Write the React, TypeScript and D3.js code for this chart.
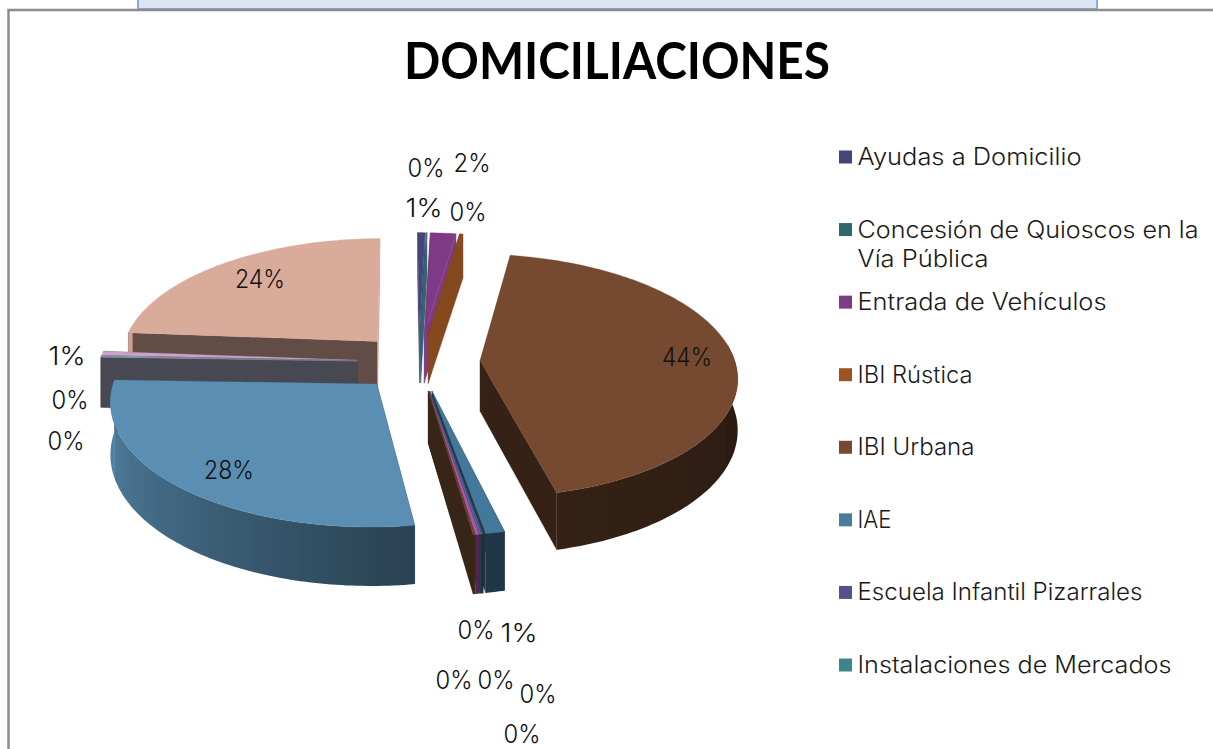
import React from "react";
import * as d3 from "d3";

const title = "DOMICILIACIONES";
const categories = [
  "Ayudas a Domicilio", "Concesión de Quioscos en la Vía Pública", "Entrada de Vehículos", "IBI Rústica",
  "IBI Urbana", "IAE", "Escuela Infantil Pizarrales", "Instalaciones de Mercados",
  "Otros 1", "Otros 2", "Otros 3", "Otros 4", "Otros 5", "Otros 6", "Otros 7", "Otros 8",
];
const shares = [0.55, 0.06, 1.86, 0.25, 43.6, 1.04, 0.08, 0.08, 0.2, 0.04, 0.05, 27.83, 0.08, 0.08, 0.55, 23.64];
const percentLabels = ["1%", "0%", "2%", "0%", "44%", "1%", "0%", "0%", "0%", "0%", "0%", "28%", "0%", "0%", "1%", "24%"];
const sliceColors = [
  "#46457a", "#31686d", "#7f3a86", "#86491e", "#754a30", "#44789a", "#56508f", "#3f8589",
  "#b04fb8", "#8a5a2a", "#7a5236", "#5a8fb3", "#a0a0b8", "#9cc4c4", "#c9a3c9", "#d9ab9b",
];
const legendColors = ["#46457a", "#31686d", "#7d3b87", "#9c5324", "#754a30", "#4a7b9d", "#56508f", "#3f8589"];
const legendLines = [
  ["Ayudas a Domicilio"], ["Concesión de Quioscos en la", "Vía Pública"], ["Entrada de Vehículos"], ["IBI Rústica"],
  ["IBI Urbana"], ["IAE"], ["Escuela Infantil Pizarrales"], ["Instalaciones de Mercados"],
];

// layout only
const legendLineWidths = [[224], [341, 131], [249], [115], [117], [34], [285], [314]];
const labelCentres = [
  [424, 208], [426, 168], [472, 163], [468, 212], [687, 357], [519, 633], [538, 694], [522, 734],
  [496, 680], [454, 680], [476, 630], [229, 470], [66, 441], [70, 400], [67, 356], [260, 279],
];
const W = 1213, H = 749;
const cx = 419, cy = 362, rxRight = 255, rxLeft = 258, ry = 120, persp = 0.121, explode = 0.24, depth = 50.5;
const FONT = "Inter, sans-serif";

const rad = (d: number) => (d * Math.PI) / 180;
const pie = d3.pie<number>().sort(null).startAngle(rad(-0.5)).endAngle(rad(359.5));
const arcs = pie(shares);

const line = d3.line<[number, number]>();
const outerShade = d3.scaleLinear().domain([90, 172, 272]).range([0.36, 0.46, 0.95]).clamp(true);
const radialShade = d3.scaleLinear().domain([-1, 0.9, 0.93, 1]).range([0.45, 0.45, 1, 1]);

function project(u: number, v: number): [number, number, number] {
  const s = 1 / (1 - persp * v);
  return [cx + (u < 0 ? rxLeft : rxRight) * u * s, cy + ry * v * s, s];
}

function shade(col: string, k: number) {
  const c = d3.rgb(col);
  return d3.rgb(c.r * k, c.g * k, c.b * k).formatHex();
}

type Slice = { i: number; start: number; end: number; mid: number };
const slices: Slice[] = arcs.map((a, i) => ({ i, start: a.startAngle, end: a.endAngle, mid: (a.startAngle + a.endAngle) / 2 }));
const ordered = [...slices].sort((a, b) => Math.cos(b.mid) - Math.cos(a.mid));

function SliceMark({ s }: { s: Slice }) {
  const col = sliceColors[s.i];
  const eu = explode * Math.sin(s.mid);
  const ev = -explode * Math.cos(s.mid);
  const rim = (t: number) => project(eu + Math.sin(t), ev - Math.cos(t));
  const apex = project(eu, ev);
  const drop = (p: [number, number, number]): [number, number] => [p[0], p[1] + depth * p[2]];
  const flat = (p: [number, number, number]): [number, number] => [p[0], p[1]];
  const ts = [...d3.range(s.start, s.end, rad(1)), s.end];
  const wall = (t: number) => {
    const r = rim(t);
    return line([flat(apex), flat(r), drop(r), drop(apex)]) + "Z";
  };
  const front = ts.filter((t) => Math.cos(t) < 0.15);
  const xs = front.map((t) => rim(t)[0]);
  const [x0, x1] = d3.extent(xs) as [number, number];
  const stops = front
    .map((t) => ({ o: x1 > x0 ? (rim(t)[0] - x0) / (x1 - x0) : 0, c: shade(col, outerShade((t * 180) / Math.PI)) }))
    .sort((a, b) => a.o - b.o);
  const gid = `wall${s.i}`;
  return (
    <g>
      <path d={wall(s.start)} fill={shade(col, radialShade(Math.cos(s.start)))} stroke={shade(col, radialShade(Math.cos(s.start)))} strokeWidth={0.3} />
      <path d={wall(s.end)} fill={shade(col, radialShade(Math.cos(s.end)))} stroke={shade(col, radialShade(Math.cos(s.end)))} strokeWidth={0.3} />
      {front.length > 1 && (
        <>
          <defs>
            <linearGradient id={gid} gradientUnits="userSpaceOnUse" x1={x0} x2={x1} y1={0} y2={0}>
              {stops.map((st, j) => <stop key={j} offset={st.o} stopColor={st.c} />)}
            </linearGradient>
          </defs>
          <path d={line([...front.map((t) => flat(rim(t))), ...[...front].reverse().map((t) => drop(rim(t)))]) + "Z"} fill={`url(#${gid})`} />
        </>
      )}
      <path d={line([flat(apex), ...ts.map((t) => flat(rim(t)))]) + "Z"} fill={col} stroke={col} strokeWidth={0.3} />
    </g>
  );
}

const legendY = d3.scaleLinear().domain([0, 7]).range([157, 665]);

export default function App() {
  return (
    <svg width={W} height={H} viewBox={`0 0 ${W} ${H}`} style={{ position: "absolute", left: 0, top: 0, background: "#fff" }}>
      <rect x={138} y={-3} width={959} height={12} fill="#dce6f2" stroke="#8eaadb" strokeWidth={2} />
      <path d="M8.5 749V10H1213" fill="none" stroke="#8c8c8c" strokeWidth={2.5} />
      <text x={617} y={79} textAnchor="middle" fontFamily="Lato, sans-serif" fontWeight={700} fontSize={52} fill="#000" textLength={426} lengthAdjust="spacingAndGlyphs">{title}</text>
      {ordered.map((s) => <SliceMark key={categories[s.i]} s={s} />)}
      {percentLabels.map((l, i) => (
        <text key={i} x={labelCentres[i][0]} y={labelCentres[i][1] + 9} textAnchor="middle" fontFamily={FONT} fontWeight={300} fontSize={25} fill="#111"
          textLength={l.length === 3 ? 50 : 37} lengthAdjust="spacingAndGlyphs">{l}</text>
      ))}
      {legendLines.map((lines, i) => (
        <g key={i}>
          <rect x={839} y={legendY(i) - 6.5} width={13} height={13} fill={legendColors[i]} />
          {lines.map((t, j) => (
            <text key={j} x={857.5} y={legendY(i) + 8 + j * 29} fontFamily={FONT} fontWeight={300} fontSize={23.5} fill="#1a1a1a"
              textLength={legendLineWidths[i][j]} lengthAdjust="spacingAndGlyphs">{t}</text>
          ))}
        </g>
      ))}
    </svg>
  );
}
